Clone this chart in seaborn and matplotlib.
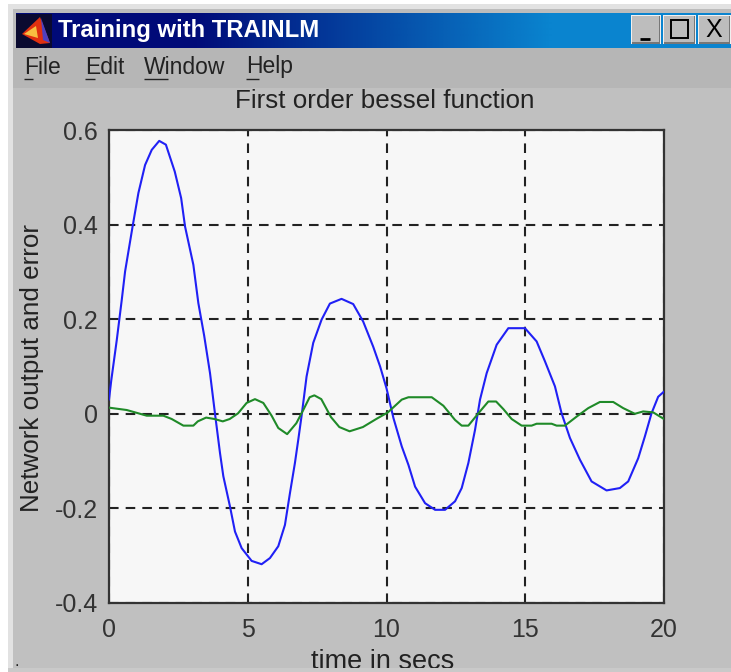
import matplotlib
matplotlib.use("Agg")
import matplotlib.pyplot as plt
from matplotlib.colors import LinearSegmentedColormap
from matplotlib.lines import Line2D
from matplotlib.patches import Rectangle, Polygon
import seaborn as sns

# ---- data ----
output_t = [0, .08, .28, .46, .58, .85, 1.06, 1.3, 1.54, 1.81, 2.05, 2.37, 2.6, 2.74, 3.04, 3.22, 3.43, 3.64, 3.82,
            4.0, 4.12, 4.36, 4.54, 4.78, 5.14, 5.5, 5.8, 6.1, 6.34, 6.52, 6.7, 6.82, 6.95, 7.12, 7.36, 7.66, 7.96,
            8.38, 8.8, 9.16, 9.52, 9.77, 10.0, 10.25, 10.55, 10.79, 11.03, 11.39, 11.75, 12.11, 12.47, 12.71,
            12.95, 13.19, 13.37, 13.61, 13.97, 14.39, 14.99, 15.41, 15.71, 16.07, 16.31, 16.61, 16.97, 17.39,
            17.93, 18.41, 18.71, 19.07, 19.31, 19.55, 19.79, 20]
output_v = [.03, .07, .156, .241, .301, .396, .467, .526, .558, .577, .569, .512, .456, .396, .315, .234, .165, .086, 0,
            -.083, -.132, -.196, -.249, -.284, -.311, -.318, -.305, -.28, -.235, -.168, -.104, -.055, 0, .079, .15,
            .199, .233, .243, .232, .195, .142, .1, .054, -.009, -.069, -.108, -.154, -.189, -.203, -.203, -.185,
            -.157, -.104, -.034, .03, .086, .146, .181, .181, .153, .111, .058, .001, -.051, -.097, -.143, -.162,
            -.157, -.143, -.094, -.048, .001, .036, .047]
error_t = [0, .64, 1.36, 1.96, 2.26, 2.68, 3.04, 3.2, 3.5, 3.8, 4.1, 4.35, 4.65, 4.96, 5.26, 5.56, 5.86, 6.1, 6.42,
           6.75, 7.0, 7.23, 7.4, 7.65, 8.0, 8.3, 8.67, 9.15, 9.63, 10.05, 10.55, 10.79, 11.63, 12.05, 12.47, 12.71,
           12.95, 13.31, 13.67, 13.95, 14.21, 14.51, 14.87, 15.23, 15.41, 15.95, 16.13, 16.43, 16.85, 17.27, 17.69,
           18.17, 18.53, 18.95, 19.25, 19.61, 20]
error_v = [.013, .008, -.004, -.004, -.011, -.025, -.025, -.016, -.008, -.011, -.016, -.011, .001, .023, .031, .023,
           -.004, -.03, -.043, -.02, .008, .035, .039, .031, -.007, -.028, -.037, -.028, -.011, .003, .03, .035,
           .035, .017, -.013, -.025, -.025, .001, .026, .026, .01, -.011, -.025, -.025, -.021, -.021, -.025, -.025,
           -.006, .012, .025, .025, .012, 0, .005, .003, -.011]
x_ticks = [0, 5, 10, 15, 20]
y_ticks = [-0.4, -0.2, 0, 0.2, 0.4, 0.6]
y_labels = ["-0.4", "-0.2", "0", "0.2", "0.4", "0.6"]
window_title = "Training with TRAINLM"
menu_items = ["File", "Edit", "Window", "Help"]
plot_title = "First order bessel function"
x_label = "time in secs"
y_label = "Network output and error"

# ---- style ----
W, H = 731, 672
sns.set_theme(style="white")
plt.rcParams["font.family"] = ["Liberation Sans", "DejaVu Sans"]
TEXT = "#222222"


def bx(x0, y0, x1, y1):
    """pixel box (origin top-left) to figure fraction left, bottom, width, height"""
    return x0 / W, 1 - y1 / H, (x1 - x0) / W, (y1 - y0) / H


fig = plt.figure(figsize=(W / 100, H / 100), dpi=100, facecolor="white")


def rect(x0, y0, x1, y1, color, z=-5):
    l, b, w, h = bx(x0, y0, x1, y1)
    fig.add_artist(Rectangle((l, b), w, h, transform=fig.transFigure, fc=color, ec="none", zorder=z))


def hline(x0, x1, y, color="#222222", lw=1.0, z=-1):
    fig.add_artist(Line2D([x0 / W, x1 / W], [1 - y / H] * 2, color=color, lw=lw, zorder=z,
                          transform=fig.transFigure, solid_capstyle="butt"))


# window chrome
rect(8, 4, W, 672, "#e2e2e2", -6)
rect(13, 9, W, 672, "#bcbcbc", -5)
rect(13, 48, W, 88, "#b6b6b6", -4)
rect(13, 88, W, 668, "#c0c0c0", -4)
rect(8, 668, W, 672, "#c9c9c9", 5)

# title bar
tb = fig.add_axes(bx(16, 13, W, 48), zorder=1)
tb.imshow([[0, 1]], aspect="auto", interpolation="bilinear",
          cmap=LinearSegmentedColormap.from_list("bar", ["#000a78", "#0a84cf"]))
tb.set_axis_off()
fig.text(58 / W, 1 - 30.5 / H, window_title, color="white", fontweight="bold", fontsize=17.2, va="center", zorder=3)

# window icon
rect(16, 14, 52, 48, "#0a0a30", 2)
fig.add_artist(Polygon([(22 / W, 1 - 34 / H), (40 / W, 1 - 17 / H), (50 / W, 1 - 43 / H), (40 / W, 1 - 44 / H)],
                       transform=fig.transFigure, fc="#e03010", ec="none", zorder=3))
fig.add_artist(Polygon([(24 / W, 1 - 34 / H), (36 / W, 1 - 26 / H), (38 / W, 1 - 38 / H)],
                       transform=fig.transFigure, fc="#f8c040", ec="none", zorder=4))
fig.add_artist(Polygon([(41 / W, 1 - 18 / H), (50 / W, 1 - 43 / H), (43 / W, 1 - 40 / H)],
                       transform=fig.transFigure, fc="#5040c0", ec="none", zorder=4))

# window buttons
for x0, x1 in [(631, 661), (663, 696), (698, 731)]:
    rect(x0, 15, x1, 44, "#f0f0f0", 2)
    rect(x0 + 1, 16, x1 - 1, 44, "#777777", 2)
    rect(x0 + 1, 16, x1 - 2, 42, "#bdbdbd", 2)
hline(640, 650, 38.5, "black", 2.0, 3)
fig.add_artist(Rectangle((671 / W, 1 - 38 / H), 17 / W, 18 / H, transform=fig.transFigure,
                         fc="none", ec="black", lw=1.4, zorder=3))
fig.text(714 / W, 1 - 30 / H, "X", color="black", fontsize=18, ha="center", va="center", zorder=3)

# menu
menu_x = [24, 85, 144, 246]
under_w = [9, 10, 24, 13]
for name, mx, uw in zip(menu_items, menu_x, under_w):
    fig.text(mx / W, 1 - 67 / H, name, color=TEXT, fontsize=16.5, va="center", zorder=3)
    hline(mx, mx + uw, 78.5, "#222222", 1.0, 3)

# plot
ax = fig.add_axes(bx(109, 130, 664, 603), facecolor="#f7f7f7", zorder=1)
sns.lineplot(x=output_t, y=output_v, ax=ax, color="#2020f5", lw=1.5, estimator=None, sort=False, zorder=3)
sns.lineplot(x=error_t, y=error_v, ax=ax, color="#1f8a28", lw=1.5, estimator=None, sort=False, zorder=4)
ax.set_xlim(0, 20)
ax.set_ylim(-0.4, 0.6)
ax.set_xticks(x_ticks, [str(t) for t in x_ticks])
ax.set_yticks(y_ticks, y_labels)
ax.grid(True, color="#222222", lw=1.5, linestyle=(0, (4.6, 3.4)), zorder=1)
ax.set_axisbelow(True)
ax.tick_params(axis="both", direction="in", length=4, width=1.3, color="#222222",
               labelsize=18, labelcolor="#333333", pad=8, bottom=True, left=True)
ax.tick_params(axis="x", pad=11)
for s in ax.spines.values():
    s.set_visible(True)
    s.set_color("#333333")
    s.set_linewidth(1.6)
fig.text(385 / W, 1 - 101 / H, plot_title, color=TEXT, fontsize=18.7, ha="center", va="center", zorder=3)
fig.text(383 / W, 1 - 662 / H, x_label, color=TEXT, fontsize=19.5, ha="center", va="center", zorder=3)
fig.text(32 / W, 1 - 368 / H, y_label, color=TEXT, fontsize=18.7, ha="center", va="center", rotation=90, zorder=3)
fig.text(17 / W, 1 - 662 / H, ".", color=TEXT, fontsize=12, ha="center", va="center", zorder=6)

fig.savefig("out.png", dpi=100)
